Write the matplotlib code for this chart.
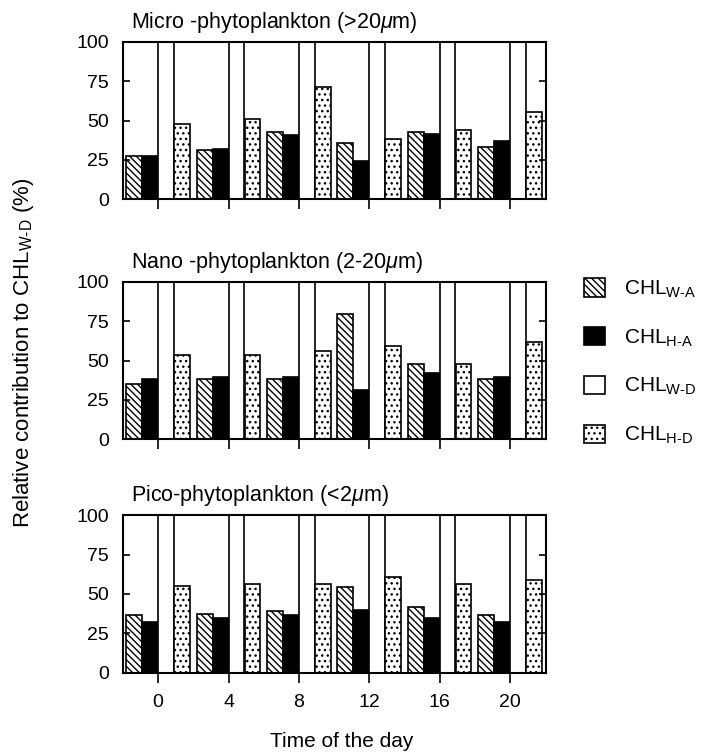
import matplotlib
matplotlib.use("Agg")
import matplotlib.pyplot as plt
import numpy as np

plt.rcParams['font.family'] = ['Liberation Sans', 'DejaVu Sans']
plt.rcParams['mathtext.fontset'] = 'custom'
plt.rcParams['mathtext.rm'] = 'Liberation Sans'
plt.rcParams['mathtext.it'] = 'Liberation Sans:italic'
plt.rcParams['hatch.linewidth'] = 1.0

# data
times = [0, 4, 8, 12, 16, 20]
series = ["W-A", "H-A", "W-D", "H-D"]

micro_wa = [27.5, 31, 42.5, 35.5, 42.5, 33]
micro_ha = [27.5, 32, 40.5, 24, 41.5, 37]
micro_wd = [100, 100, 100, 100, 100, 100]
micro_hd = [47.5, 51, 71, 38, 44, 55.5]

nano_wa = [35, 38, 38, 79.5, 48, 38]
nano_ha = [38.5, 39.5, 39.5, 31, 42, 39.5]
nano_wd = [100, 100, 100, 100, 100, 100]
nano_hd = [53.5, 53.5, 56, 59.5, 48, 61.5]

pico_wa = [36.5, 37.5, 39, 54.5, 41.5, 36.5]
pico_ha = [32, 34.5, 36.5, 40, 34.5, 32]
pico_wd = [100, 100, 100, 100, 100, 100]
pico_hd = [55, 56.5, 56.5, 60.5, 56.5, 59]

panels = [
    (r"Micro -phytoplankton (>20$\mu$m)", [micro_wa, micro_ha, micro_wd, micro_hd]),
    (r"Nano -phytoplankton (2-20$\mu$m)", [nano_wa, nano_ha, nano_wd, nano_hd]),
    (r"Pico-phytoplankton (<2$\mu$m)", [pico_wa, pico_ha, pico_wd, pico_hd]),
]

offsets = [-1.36, -0.45, 0.45, 1.36]
bar_w = 0.9
styles = [
    dict(facecolor='white', edgecolor='black', hatch='\\\\\\\\\\'),
    dict(facecolor='black', edgecolor='black'),
    dict(facecolor='white', edgecolor='black'),
    dict(facecolor='white', edgecolor='black', hatch='...'),
]

W, H = 703, 754
fig = plt.figure(figsize=(W / 100, H / 100), dpi=100)

ax_left = 123 / W
ax_width = 423 / W
ax_height = 157.6 / H
bottoms = [1 - 199.3 / H, 1 - 439.3 / H, 1 - 672.7 / H]

x = np.array(times)
handles = []
for i, (title, vals) in enumerate(panels):
    ax = fig.add_axes([ax_left, bottoms[i], ax_width, ax_height])
    for j, v in enumerate(vals):
        b = ax.bar(x + offsets[j], v, width=bar_w, linewidth=1.2, **styles[j])
        if i == 0:
            handles.append(b)
    ax.set_xlim(-2, 22.05)
    ax.set_ylim(0, 100)
    ax.set_yticks([0, 25, 50, 75, 100])
    ax.set_xticks(times)
    ax.tick_params(axis='y', direction='in', length=5, width=1.2, labelsize=14,
                   right=True, pad=10)
    ax.tick_params(axis='x', direction='out', length=7, width=1.2, labelsize=14, pad=8)
    if i < 2:
        ax.set_xticklabels([])
    for s in ax.spines.values():
        s.set_linewidth(1.5)
    ax.text(0.02, 1.088, title, transform=ax.transAxes, fontsize=15.5,
            va='baseline', ha='left')

fig.text(342 / W, 1 - 747 / H, "Time of the day", fontsize=15, ha='center', va='baseline')
fig.text(24 / W, 1 - 353 / H, r"Relative contribution to CHL$_{\mathrm{W\text{-}D}}$ (%)",
         fontsize=16, rotation=90, ha='center', va='center')

labels = [r"CHL$_{\mathrm{W\text{-}A}}$", r"CHL$_{\mathrm{H\text{-}A}}$",
          r"CHL$_{\mathrm{W\text{-}D}}$", r"CHL$_{\mathrm{H\text{-}D}}$"]
fig.legend(handles, labels, loc='upper left', bbox_to_anchor=(584 / W, 1 - 278 / H),
           frameon=False, fontsize=15, handlelength=1.0, handleheight=1.0,
           labelspacing=1.3, handletextpad=0.9, borderpad=0, borderaxespad=0)

fig.savefig("out.png", dpi=100)
